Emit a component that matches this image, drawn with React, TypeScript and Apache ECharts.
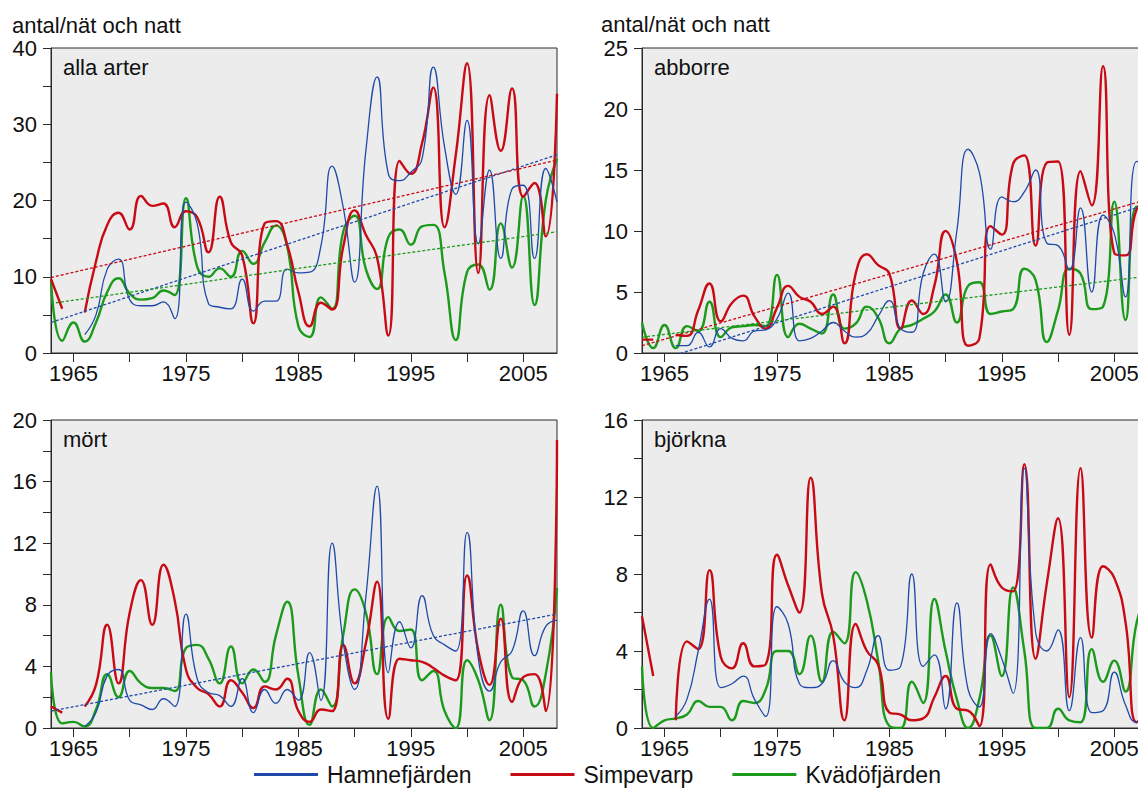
import React, { useEffect, useRef } from "react";
import * as echarts from "echarts";

const YEARS: number[] = Array.from({ length: 46 }, (_, i) => 1963 + i);
const X_TICKS = [1965, 1970, 1975, 1980, 1985, 1990, 1995, 2000, 2005];
const X_LABELS = [1965, 1975, 1985, 1995, 2005];
const STATIONS = ["Hamnefjärden", "Simpevarp", "Kvädöfjärden"];

// alla arter
const allaHamne = [null, null, null, 2.4, 5.0, 11.0, 12.3, 7.0, 6.2, 6.2, 6.7, 4.5, 19.8, 17.0, 6.5, 6.0, 5.8, 9.7, 5.5, 6.8, 6.8, 11.0, 10.5, 10.6, 14.0, 24.5, 19.0, 9.3, 26.5, 36.2, 23.5, 22.6, 23.7, 25.5, 37.5, 27.0, 20.8, 30.5, 14.3, 24.0, 12.4, 21.5, 22.0, 12.4, 24.2, 19.8];
const allaSimpe = [9.7, 5.8, null, 5.3, 12.0, 16.8, 18.4, 16.2, 20.6, 19.3, 19.6, 16.5, 18.6, 17.8, 13.2, 20.5, 14.5, 12.8, 3.9, 17.0, 17.3, 14.2, 8.0, 3.5, 6.6, 5.7, 14.0, 18.7, 15.5, 12.5, 2.3, 25.2, 23.5, 27.5, 34.8, 16.5, 26.0, 38.0, 10.5, 33.8, 26.5, 34.7, 20.5, 22.3, 15.3, 34.0];
const allaKvado = [9.5, 1.6, 4.0, 1.5, 4.0, 8.0, 9.8, 7.8, 7.0, 7.2, 8.2, 7.6, 20.3, 11.3, 10.0, 11.1, 10.0, 13.4, 11.7, 14.5, 16.7, 14.0, 3.5, 2.1, 7.3, 5.8, 16.0, 18.0, 11.0, 8.4, 15.2, 16.2, 14.2, 16.6, 16.8, 10.5, 1.7, 10.6, 11.6, 8.3, 17.0, 11.2, 20.6, 6.3, 20.0, 25.5];
const allaTrends = [[4.0, 26.0], [9.9, 25.3], [6.5, 15.9]];

// abborre
const abbHamne = [null, null, null, 0.6, 0.6, 1.7, 0.5, 2.0, 1.2, 1.0, 1.8, 1.9, 2.8, 4.9, 1.0, 1.2, 1.8, 2.5, 1.8, 1.3, 1.6, 3.0, 4.3, 2.0, 1.7, 6.5, 8.1, 4.2, 10.0, 16.7, 14.8, 8.5, 12.8, 12.4, 13.2, 15.0, 9.0, 8.8, 6.8, 11.9, 5.0, 11.3, 9.8, 4.6, 15.7, 15.0];
const abbSimpe = [1.1, 1.1, null, 1.5, 1.4, 3.5, 5.7, 2.6, 4.1, 4.7, 3.0, 2.0, 3.7, 5.5, 4.6, 4.2, 3.2, 3.8, 0.8, 6.5, 8.1, 7.2, 6.5, 2.0, 4.3, 3.2, 5.5, 10.0, 7.5, 0.6, 1.2, 10.4, 9.7, 15.5, 16.2, 8.8, 15.6, 15.7, 1.5, 14.9, 12.1, 23.5, 8.2, 8.0, 11.8, 12.5];
const abbKvado = [2.5, 0.4, 2.3, 0.4, 2.2, 1.8, 4.2, 1.3, 2.1, 2.2, 2.3, 2.2, 6.4, 1.3, 2.4, 2.0, 1.6, 4.8, 2.0, 2.4, 3.8, 2.9, 0.8, 2.0, 2.3, 2.8, 3.4, 4.8, 2.5, 5.5, 5.8, 3.2, 3.4, 3.6, 6.9, 6.0, 0.9, 3.5, 6.9, 6.5, 3.6, 3.8, 12.4, 2.7, 12.0, 11.0];
const abbTrends = [[-1.05, 12.2], [0.6, 12.6], [1.3, 6.3]];

// mört
const mortHamne = [null, null, null, 0.1, 1.0, 3.4, 3.8, 1.8, 1.5, 1.2, 1.9, 1.4, 7.4, 3.2, 2.3, 2.1, 1.4, 3.2, 1.0, 2.5, 1.6, 2.5, 1.8, 4.9, 1.8, 12.0, 5.5, 2.5, 8.5, 15.7, 3.6, 6.9, 5.2, 8.6, 6.0, 5.4, 5.0, 12.7, 4.5, 2.4, 4.3, 5.0, 7.6, 4.7, 6.6, 7.0];
const mortSimpe = [1.4, 1.0, null, 1.4, 2.8, 6.7, 2.9, 7.5, 9.6, 6.7, 10.6, 8.3, 3.8, 2.6, 2.2, 1.4, 3.1, 2.3, 1.3, 2.7, 2.5, 3.2, 1.1, 0.4, 1.2, 1.1, 5.4, 2.9, 5.5, 9.5, 0.6, 4.5, 4.4, 4.3, 3.9, 3.4, 3.1, 9.9, 5.0, 2.8, 7.1, 1.7, 3.3, 3.5, 1.1, 18.7];
const mortKvado = [3.6, 0.3, 0.4, 0.1, 1.2, 3.5, 2.0, 3.7, 2.9, 2.6, 2.6, 2.4, 5.2, 5.4, 4.5, 2.9, 5.3, 2.9, 3.8, 3.0, 6.0, 8.2, 3.4, 0.2, 2.5, 1.4, 6.1, 9.0, 7.5, 3.5, 7.2, 6.3, 6.4, 3.1, 3.7, 1.1, 0.0, 4.4, 3.1, 0.5, 8.0, 3.3, 3.1, 1.4, 3.5, 9.1];
const mortTrends = [[1.1, 7.4], null, null];

// björkna
const bjorHamne = [null, null, null, 0.6, 1.5, 4.0, 6.7, 2.1, 2.3, 2.7, 1.5, 0.6, 6.3, 5.4, 2.3, 2.1, 2.3, 3.5, 2.4, 2.1, 3.0, 4.8, 3.0, 3.2, 8.0, 3.2, 3.8, 1.0, 6.5, 2.0, 1.1, 4.9, 3.6, 1.8, 13.5, 5.0, 4.0, 5.1, 0.9, 4.7, 0.8, 0.9, 2.9, 1.2, 0.3, 0.5];
const bjorSimpe = [5.8, 2.7, null, 0.4, 4.5, 4.1, 8.2, 3.7, 3.1, 4.4, 3.2, 3.3, 9.0, 7.4, 6.0, 13.0, 7.0, 4.8, 0.4, 5.4, 4.0, 3.3, 0.8, 0.7, 0.4, 0.5, 1.6, 2.7, 1.0, 0.9, 0.1, 8.5, 7.3, 7.1, 13.7, 3.6, 7.5, 10.9, 1.6, 13.5, 4.7, 8.4, 7.8, 5.5, 0.3, 1.5];
const bjorKvado = [3.2, 0.0, 0.4, 0.5, 0.7, 1.4, 1.1, 1.1, 0.4, 1.4, 1.3, 2.0, 4.0, 4.0, 2.8, 4.8, 2.4, 5.0, 4.4, 8.1, 6.6, 3.5, 0.1, 0.0, 2.4, 1.3, 6.7, 4.0, 1.5, 0.0, 1.5, 4.8, 2.7, 7.3, 4.0, 0.0, 0.0, 1.0, 0.4, 0.3, 4.1, 2.4, 3.5, 1.9, 5.5, 7.0];
const bjorTrends = [null, null, null];

const PANEL_NAMES = ["alla arter", "abborre", "mört", "björkna"];
const PANEL_DATA = [
  [allaHamne, allaSimpe, allaKvado],
  [abbHamne, abbSimpe, abbKvado],
  [mortHamne, mortSimpe, mortKvado],
  [bjorHamne, bjorSimpe, bjorKvado],
];
const PANEL_TRENDS = [allaTrends, abbTrends, mortTrends, bjorTrends];
const Y_MAX = [40, 25, 20, 16];
const Y_STEP = [5, 5, 2, 2];
const Y_LABEL_STEP = [10, 5, 4, 4];

const FONT = "'Liberation Sans', Arial, Helvetica, sans-serif";
const COLORS = ["#1f4aaa", "#c80a14", "#1c9a1c"];
const WIDTHS = [1.3, 2.4, 2.4];
const LAYOUT = [
  { left: 51, top: 48, width: 506, height: 305 },
  { left: 642, top: 48, width: 506, height: 305 },
  { left: 51, top: 420, width: 506, height: 308 },
  { left: 642, top: 420, width: 506, height: 308 },
];

export default function App() {
  const ref = useRef<HTMLDivElement>(null);
  useEffect(() => {
    if (!ref.current) return;
    const chart = echarts.init(ref.current, null, { renderer: "svg" });
    const grid: any[] = [];
    const xAxis: any[] = [];
    const yAxis: any[] = [];
    const series: any[] = [];
    const graphic: any[] = [];
    LAYOUT.forEach((g, p) => {
      grid.push({
        left: g.left,
        top: g.top,
        width: g.width,
        height: g.height,
        show: true,
        backgroundColor: "#ececec",
        borderColor: "#2a2a2a",
        borderWidth: 1,
      });
      xAxis.push({
        type: "value",
        gridIndex: p,
        min: 1963,
        max: 2008,
        axisLine: { show: true, onZero: false, lineStyle: { color: "#2a2a2a", width: 1 } },
        axisTick: { show: true, customValues: X_TICKS, length: 9, lineStyle: { color: "#2a2a2a", width: 1 } },
        axisLabel: {
          customValues: X_LABELS,
          formatter: (v: number) => String(v),
          fontSize: 22,
          fontFamily: FONT,
          color: "#111",
          margin: 9,
        },
        splitLine: { show: false },
      });
      yAxis.push({
        type: "value",
        gridIndex: p,
        min: 0,
        max: Y_MAX[p],
        interval: Y_STEP[p],
        axisLine: { show: true, onZero: false, lineStyle: { color: "#2a2a2a", width: 1 } },
        axisTick: { show: true, length: 8, lineStyle: { color: "#2a2a2a", width: 1 } },
        axisLabel: {
          formatter: (v: number) => (v % Y_LABEL_STEP[p] === 0 ? String(v) : ""),
          fontSize: 22,
          lineHeight: 18,
          fontFamily: FONT,
          color: "#111",
          margin: 14,
          showMinLabel: true,
          showMaxLabel: true,
        },
        splitLine: { show: false },
      });
      const order = [2, 1, 0];
      order.forEach((s) => {
        const arr = PANEL_DATA[p][s];
        series.push({
          type: "line",
          name: STATIONS[s],
          xAxisIndex: p,
          yAxisIndex: p,
          data: YEARS.map((y, i) => [y, arr[i]]),
          smooth: 0.5,
          showSymbol: false,
          symbol: "none",
          connectNulls: false,
          clip: true,
          lineStyle: { color: COLORS[s], width: WIDTHS[s] },
          itemStyle: { color: COLORS[s] },
          silent: true,
          z: 3,
        });
      });
      PANEL_TRENDS[p].forEach((t, s) => {
        if (!t) return;
        series.push({
          type: "line",
          name: "trend " + STATIONS[s],
          xAxisIndex: p,
          yAxisIndex: p,
          data: [
            [YEARS[0], t[0]],
            [YEARS[YEARS.length - 1], t[1]],
          ],
          showSymbol: false,
          symbol: "none",
          clip: true,
          lineStyle: { color: COLORS[s], width: 1.3, type: [3, 2] },
          silent: true,
          z: 4,
        });
      });
      graphic.push({
        type: "text",
        left: g.left + 12,
        top: g.top + 8,
        style: { text: PANEL_NAMES[p], font: `22px ${FONT}`, lineHeight: 20, fill: "#111" },
        z: 10,
      });
    });
    graphic.push({
      type: "text",
      left: 12,
      top: 14,
      style: { text: "antal/nät och natt", font: `22px ${FONT}`, lineHeight: 18, fill: "#111" },
    });
    graphic.push({
      type: "text",
      left: 601,
      top: 13,
      style: { text: "antal/nät och natt", font: `22px ${FONT}`, lineHeight: 18, fill: "#111" },
    });

    chart.setOption({
      animation: false,
      grid,
      xAxis,
      yAxis,
      series,
      graphic,
      legend: {
        data: STATIONS,
        left: 254,
        top: 763,
        icon: "rect",
        itemWidth: 64,
        itemHeight: 3,
        itemGap: 39,
        selectedMode: false,
        padding: 0,
        textStyle: { fontSize: 23, fontFamily: FONT, color: "#111", padding: [0, 0, 0, 4] },
      },
    });
    return () => chart.dispose();
  }, []);
  return (
    <div style={{ position: "fixed", left: 0, top: 0, width: 1138, height: 790, overflow: "hidden", background: "#fff" }}>
      <div ref={ref} style={{ width: 1170, height: 790 }} />
    </div>
  );
}
